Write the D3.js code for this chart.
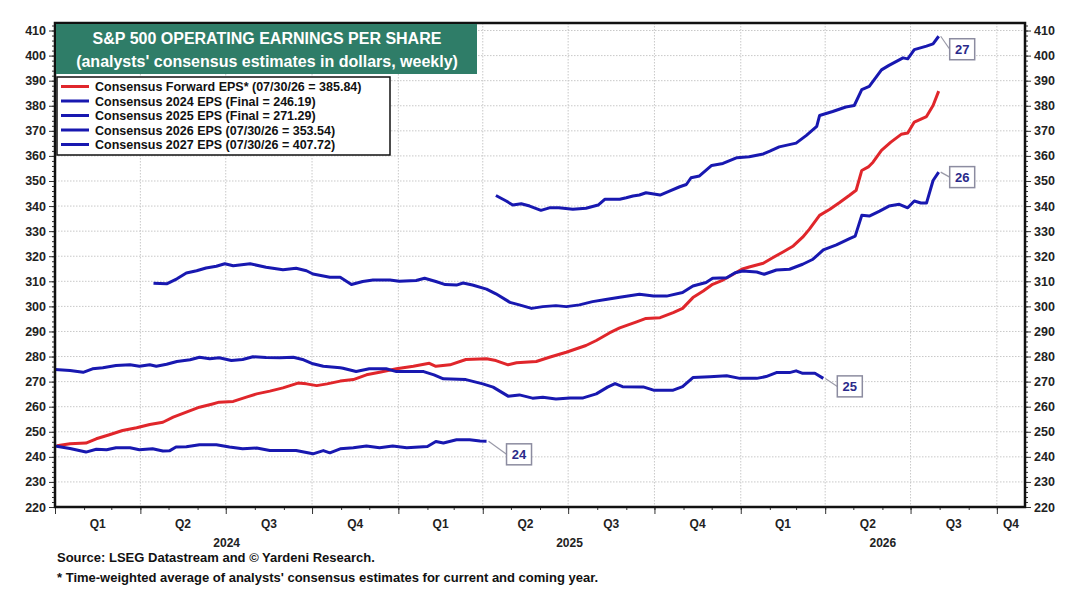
<!DOCTYPE html>
<html>
<head>
<meta charset="utf-8">
<script src="https://cdn.jsdelivr.net/npm/d3@7"></script>
<style>
body { margin: 0; background: #fff; }
svg text { font-family: "Liberation Sans", Arial, sans-serif; font-weight: bold; }
</style>
</head>
<body>
<div id="chart-area"></div>
<script>
// weekly consensus estimates
const fwdEps = [
    ["2024-01-03",244.4],["2024-01-17",245.2],["2024-02-03",245.5],["2024-02-14",247.2],["2024-02-28",248.8],
    ["2024-03-13",250.5],["2024-03-28",251.6],["2024-04-11",252.9],["2024-04-25",253.8],["2024-05-06",255.8],
    ["2024-05-20",257.8],["2024-06-03",259.8],["2024-06-17",261.1],["2024-06-24",261.8],["2024-07-09",262.1],
    ["2024-07-23",263.8],["2024-08-03",265.1],["2024-08-17",266.2],["2024-08-31",267.5],["2024-09-16",269.4],
    ["2024-09-25",269.1],["2024-10-06",268.4],["2024-10-17",269.1],["2024-10-31",270.2],["2024-11-14",270.8],
    ["2024-11-28",272.7],["2024-12-12",273.7],["2024-12-30",275.1],["2025-01-17",276.1],["2025-02-03",277.3],
    ["2025-02-10",276.1],["2025-02-25",276.7],["2025-03-14",278.8],["2025-04-05",279.1],["2025-04-15",278.4],
    ["2025-04-28",276.7],["2025-05-07",277.5],["2025-05-28",278.0],["2025-06-11",279.7],["2025-06-29",281.7],
    ["2025-07-20",284.4],["2025-07-31",286.4],["2025-08-14",289.4],["2025-08-25",291.4],["2025-09-12",293.8],
    ["2025-09-22",295.2],["2025-10-07",295.5],["2025-10-21",297.5],["2025-10-31",299.2],["2025-11-11",303.5],
    ["2025-11-22",306.1],["2025-12-02",308.8],["2025-12-13",310.5],["2025-12-24",312.8],["2026-01-02",314.8],
    ["2026-01-10",315.7],["2026-01-25",317.2],["2026-02-04",319.4],["2026-02-15",321.7],["2026-02-26",324.1],
    ["2026-03-08",327.6],["2026-03-15",330.7],["2026-03-26",336.3],["2026-04-06",338.7],["2026-04-16",341.3],
    ["2026-04-27",344.3],["2026-05-04",346.3],["2026-05-10",354.2],["2026-05-17",355.6],["2026-05-22",357.5],
    ["2026-05-31",362.2],["2026-06-10",365.5],["2026-06-21",368.6],["2026-06-28",369.1],["2026-07-05",373.5],
    ["2026-07-18",375.7],["2026-07-25",380.1],["2026-07-31",385.84]
];

const eps2024 = [
    ["2024-01-01",244.3],["2024-01-17",243.3],["2024-02-03",241.9],["2024-02-14",243.0],["2024-02-25",242.8],
    ["2024-03-06",243.6],["2024-03-21",243.6],["2024-03-31",242.8],["2024-04-14",243.2],["2024-04-25",242.3],
    ["2024-05-02",242.4],["2024-05-09",243.9],["2024-05-20",244.0],["2024-06-03",244.8],["2024-06-21",244.8],
    ["2024-07-05",243.9],["2024-07-19",243.2],["2024-08-03",243.5],["2024-08-17",242.5],["2024-08-31",242.5],
    ["2024-09-14",242.5],["2024-10-02",241.2],["2024-10-13",242.5],["2024-10-20",241.6],["2024-10-31",243.2],
    ["2024-11-14",243.6],["2024-11-28",244.3],["2024-12-12",243.6],["2024-12-26",244.3],["2025-01-10",243.6],
    ["2025-02-01",244.1],["2025-02-10",246.1],["2025-02-18",245.5],["2025-03-04",246.8],["2025-03-18",246.8],
    ["2025-03-29",246.3],["2025-04-05",246.19]
];

const eps2025 = [
    ["2024-01-01",274.8],["2024-01-17",274.4],["2024-01-31",273.7],["2024-02-10",275.1],["2024-02-21",275.5],
    ["2024-03-06",276.4],["2024-03-21",276.7],["2024-03-31",276.1],["2024-04-11",276.7],["2024-04-18",276.1],
    ["2024-04-29",276.9],["2024-05-10",278.0],["2024-05-24",278.7],["2024-06-03",279.7],["2024-06-14",279.1],
    ["2024-06-24",279.5],["2024-07-07",278.4],["2024-07-19",278.8],["2024-07-30",279.9],["2024-08-13",279.6],
    ["2024-08-28",279.5],["2024-09-11",279.7],["2024-09-22",278.7],["2024-10-02",277.1],["2024-10-13",276.1],
    ["2024-10-31",275.5],["2024-11-03",275.3],["2024-11-17",274.0],["2024-12-01",275.1],["2024-12-19",275.1],
    ["2024-12-30",274.0],["2025-01-28",274.0],["2025-02-08",272.7],["2025-02-18",271.1],["2025-03-14",270.8],
    ["2025-04-01",269.1],["2025-04-12",267.8],["2025-04-28",264.2],["2025-05-10",264.7],["2025-05-24",263.4],
    ["2025-06-04",263.8],["2025-06-18",263.1],["2025-07-03",263.5],["2025-07-17",263.5],["2025-07-31",265.1],
    ["2025-08-12",267.8],["2025-08-20",269.2],["2025-08-28",268.0],["2025-09-19",267.9],["2025-09-30",266.6],
    ["2025-10-21",266.6],["2025-10-31",268.0],["2025-11-11",271.6],["2025-11-29",271.9],["2025-12-17",272.3],
    ["2025-12-31",271.3],["2026-01-18",271.3],["2026-01-28",272.0],["2026-02-08",273.6],["2026-02-22",273.6],
    ["2026-03-01",274.3],["2026-03-08",273.3],["2026-03-21",273.3],["2026-03-30",271.29]
];

const eps2026 = [
    ["2024-04-15",309.2],["2024-04-29",309.0],["2024-05-10",311.0],["2024-05-20",313.3],["2024-05-31",314.2],
    ["2024-06-10",315.3],["2024-06-21",316.0],["2024-06-30",317.0],["2024-07-09",316.2],["2024-07-27",317.0],
    ["2024-08-13",315.6],["2024-08-31",314.6],["2024-09-14",315.2],["2024-09-25",314.2],["2024-10-02",312.9],
    ["2024-10-20",311.6],["2024-10-31",311.6],["2024-11-12",308.7],["2024-11-24",309.9],["2024-12-05",310.5],
    ["2024-12-23",310.5],["2025-01-02",310.0],["2025-01-20",310.3],["2025-01-29",311.2],["2025-02-10",309.9],
    ["2025-02-20",308.7],["2025-03-04",308.5],["2025-03-11",309.3],["2025-03-21",308.5],["2025-04-05",306.9],
    ["2025-04-15",305.0],["2025-04-30",301.6],["2025-05-10",300.6],["2025-05-23",299.2],["2025-06-04",299.9],
    ["2025-06-18",300.3],["2025-06-29",299.9],["2025-07-13",300.6],["2025-07-27",301.9],["2025-08-10",302.7],
    ["2025-08-25",303.6],["2025-09-15",304.8],["2025-09-30",304.1],["2025-10-14",304.1],["2025-10-31",305.5],
    ["2025-11-11",308.1],["2025-11-25",309.5],["2025-12-02",311.2],["2025-12-17",311.4],["2025-12-26",313.4],
    ["2026-01-03",314.1],["2026-01-18",313.7],["2026-01-26",312.8],["2026-02-08",314.5],["2026-02-22",314.8],
    ["2026-03-08",316.8],["2026-03-19",318.8],["2026-03-30",322.5],["2026-04-13",324.5],["2026-04-27",327.0],
    ["2026-05-03",328.0],["2026-05-10",336.3],["2026-05-18",336.0],["2026-05-29",338.0],["2026-06-08",340.0],
    ["2026-06-19",340.7],["2026-06-28",339.3],["2026-07-05",342.0],["2026-07-12",341.2],["2026-07-18",341.2],
    ["2026-07-25",350.2],["2026-07-31",353.54]
];

const eps2027 = [
    ["2025-04-15",344.2],["2025-04-26",342.0],["2025-05-03",340.4],["2025-05-12",340.9],["2025-05-21",340.0],
    ["2025-06-02",338.3],["2025-06-11",339.3],["2025-06-21",339.3],["2025-07-06",338.7],["2025-07-20",339.1],
    ["2025-08-02",340.4],["2025-08-09",342.7],["2025-08-25",342.7],["2025-09-01",343.3],["2025-09-08",344.0],
    ["2025-09-15",344.4],["2025-09-22",345.3],["2025-10-07",344.4],["2025-10-17",346.0],["2025-10-28",347.7],
    ["2025-11-04",348.6],["2025-11-09",351.3],["2025-11-18",352.0],["2025-12-01",356.2],["2025-12-13",357.0],
    ["2025-12-28",359.3],["2026-01-10",359.7],["2026-01-25",360.8],["2026-02-01",361.9],["2026-02-11",363.6],
    ["2026-03-01",365.1],["2026-03-12",368.2],["2026-03-23",371.8],["2026-03-26",376.1],["2026-04-09",377.7],
    ["2026-04-23",379.5],["2026-05-02",380.1],["2026-05-10",386.4],["2026-05-18",387.7],["2026-05-31",394.3],
    ["2026-06-08",396.1],["2026-06-23",399.1],["2026-06-28",398.7],["2026-07-05",402.4],["2026-07-18",403.8],
    ["2026-07-25",404.7],["2026-07-31",407.72]
];

const legendLabels = [
    "Consensus Forward EPS* (07/30/26 = 385.84)",
    "Consensus 2024 EPS (Final = 246.19)",
    "Consensus 2025 EPS (Final = 271.29)",
    "Consensus 2026 EPS (07/30/26 = 353.54)",
    "Consensus 2027 EPS (07/30/26 = 407.72)"
];
const endTags = ["24", "25", "26", "27"];
const quarterNames = ["Q1", "Q2", "Q3", "Q4"];
const yearNames = ["2024", "2025", "2026"];
const titleLines = ["S&P 500 OPERATING EARNINGS PER SHARE", "(analysts' consensus estimates in dollars, weekly)"];
const notes = [
    "Source: LSEG Datastream and \u00a9 Yardeni Research.",
    "* Time-weighted average of analysts' consensus estimates for current and coming year."
];

const RED = "#e0262b";
const BLUE = "#1818b0";

const width = 1080;
const height = 596;
const margin = {left: 55, right: 55, top: 23, bottom: 89};
const w = width - margin.left - margin.right;
const h = height - margin.top - margin.bottom;

const parse = d3.timeParse("%Y-%m-%d");
const toPts = arr => arr.map(d => ({date: parse(d[0]), value: d[1]}));

const series = [
    {data: toPts(eps2024), color: BLUE, tag: endTags[0], off: [20, 13]},
    {data: toPts(eps2025), color: BLUE, tag: endTags[1], off: [14, 8]},
    {data: toPts(eps2026), color: BLUE, tag: endTags[2], off: [11, 5]},
    {data: toPts(eps2027), color: BLUE, tag: endTags[3], off: [11, 13]}
];
const fwd = {data: toPts(fwdEps), color: RED};

const svg = d3.select("#chart-area")
    .append("svg")
    .attr("width", width)
    .attr("height", height);

svg.append("rect")
    .attr("width", "100%")
    .attr("height", "100%")
    .attr("fill", "white");

const g = svg.append("g")
    .attr("transform", "translate(" + margin.left + "," + margin.top + ")");

const x = d3.scaleTime()
    .domain([new Date(2024, 0, 1), new Date(2026, 9, 31)])
    .range([0, w]);

const y = d3.scaleLinear()
    .domain([220, 413])
    .range([h, 0]);

const quarters = d3.timeMonth.every(3).range(new Date(2024, 0, 1), new Date(2026, 10, 1));
const months = d3.timeMonth.range(new Date(2024, 0, 1), new Date(2026, 10, 1));

// grid
g.append("g")
    .selectAll("line")
    .data(d3.range(230, 411, 10))
    .enter()
    .append("line")
        .attr("x1", 0)
        .attr("x2", w)
        .attr("y1", d => y(d))
        .attr("y2", d => y(d))
        .attr("stroke", "#c8c8c8")
        .attr("stroke-width", 1)
        .attr("stroke-dasharray", "1.5,1.5");

g.append("g")
    .selectAll("line")
    .data(quarters.slice(1))
    .enter()
    .append("line")
        .attr("x1", d => x(d))
        .attr("x2", d => x(d))
        .attr("y1", 0)
        .attr("y2", h)
        .attr("stroke", "#c8c8c8")
        .attr("stroke-width", 1)
        .attr("stroke-dasharray", "1.5,1.5");

// axes
const yMajor = d3.range(220, 411, 10);
const yMinor = d3.range(220, 413, 2);

g.append("g")
    .attr("class", "axis")
    .call(d3.axisLeft(y).tickValues(yMinor).tickSize(3).tickFormat(""));
g.append("g")
    .attr("class", "axis")
    .call(d3.axisLeft(y).tickValues(yMajor).tickSize(6).tickPadding(3));
g.append("g")
    .attr("class", "axis")
    .attr("transform", "translate(" + w + ",0)")
    .call(d3.axisRight(y).tickValues(yMinor).tickSize(3).tickFormat(""));
g.append("g")
    .attr("class", "axis")
    .attr("transform", "translate(" + w + ",0)")
    .call(d3.axisRight(y).tickValues(yMajor).tickSize(6).tickPadding(3));

g.append("g")
    .attr("class", "axis")
    .attr("transform", "translate(0," + h + ")")
    .call(d3.axisBottom(x).tickValues(months).tickSize(3).tickFormat(""));
g.append("g")
    .attr("class", "axis")
    .attr("transform", "translate(0," + h + ")")
    .call(d3.axisBottom(x).tickValues(quarters).tickSize(7).tickFormat(""));

g.selectAll(".axis path").remove();
g.selectAll(".axis line")
    .attr("stroke", "#333")
    .attr("stroke-width", 1);
g.selectAll(".axis text")
    .attr("fill", "#222")
    .attr("font-size", "12.5px")
    .attr("font-weight", "bold");

// quarter and year labels
const xEnd = x.domain()[1];
g.append("g")
    .selectAll("text")
    .data(quarters)
    .enter()
    .append("text")
        .attr("x", d => (x(d) + x(d3.min([d3.timeMonth.offset(d, 3), xEnd]))) / 2)
        .attr("y", h + 21)
        .attr("text-anchor", "middle")
        .attr("font-size", "12px")
        .attr("fill", "#222")
        .text(d => quarterNames[Math.floor(d.getMonth() / 3)]);

g.append("g")
    .selectAll("text")
    .data(yearNames)
    .enter()
    .append("text")
        .attr("x", d => {
            const a = new Date(+d, 0, 1);
            const b = d3.min([new Date(+d + 1, 0, 1), xEnd]);
            return (x(a) + x(b)) / 2;
        })
        .attr("y", h + 40)
        .attr("text-anchor", "middle")
        .attr("font-size", "12px")
        .attr("fill", "#222")
        .text(d => d);

// lines
const line = d3.line()
    .x(d => x(d.date))
    .y(d => y(d.value));

g.append("path")
    .datum(fwd.data)
    .attr("d", line)
    .attr("fill", "none")
    .attr("stroke", fwd.color)
    .attr("stroke-width", 3)
    .attr("stroke-linejoin", "round");

series.forEach(s => {
    g.append("path")
        .datum(s.data)
        .attr("d", line)
        .attr("fill", "none")
        .attr("stroke", s.color)
        .attr("stroke-width", 3)
        .attr("stroke-linejoin", "round");

    const last = s.data[s.data.length - 1];
    const lx = x(last.date);
    const ly = y(last.value);
    const bx = lx + s.off[0];
    const by = ly + s.off[1];

    g.append("line")
        .attr("x1", lx + 2)
        .attr("y1", ly)
        .attr("x2", bx)
        .attr("y2", by)
        .attr("stroke", "#9a9aa8")
        .attr("stroke-width", 1.2);

    g.append("rect")
        .attr("x", bx)
        .attr("y", by - 10.5)
        .attr("width", 25)
        .attr("height", 21)
        .attr("fill", "white")
        .attr("stroke", "#8c8ca0")
        .attr("stroke-width", 1.5);

    g.append("text")
        .attr("x", bx + 12.5)
        .attr("y", by + 5)
        .attr("text-anchor", "middle")
        .attr("font-size", "13px")
        .attr("fill", "#2a2a8a")
        .text(s.tag);
});

// frame
g.append("rect")
    .attr("x", 0)
    .attr("y", 0)
    .attr("width", w)
    .attr("height", h)
    .attr("fill", "none")
    .attr("stroke", "#111")
    .attr("stroke-width", 2.5);

// title box
const title = g.append("g");
title.append("rect")
    .attr("x", 1)
    .attr("y", 1)
    .attr("width", 421)
    .attr("height", 50)
    .attr("fill", "#2f7d68");
title.selectAll("text")
    .data(titleLines)
    .enter()
    .append("text")
        .attr("x", 212)
        .attr("y", (d, i) => 21 + i * 23)
        .attr("text-anchor", "middle")
        .attr("font-size", "16px")
        .attr("fill", "white")
        .text(d => d);

// legend
const legend = g.append("g")
    .attr("transform", "translate(2,54)");
legend.append("rect")
    .attr("width", 333)
    .attr("height", 78)
    .attr("fill", "white")
    .attr("stroke", "#111")
    .attr("stroke-width", 1.5);

const legendColors = [RED, BLUE, BLUE, BLUE, BLUE];
const rows = legend.selectAll(".row")
    .data(legendLabels)
    .enter()
    .append("g")
        .attr("class", "row")
        .attr("transform", (d, i) => "translate(0," + (9.5 + i * 14.5) + ")");
rows.append("line")
    .attr("x1", 4)
    .attr("x2", 32)
    .attr("stroke", (d, i) => legendColors[i])
    .attr("stroke-width", 3);
rows.append("text")
    .attr("x", 38)
    .attr("y", 4.5)
    .attr("font-size", "12.5px")
    .attr("fill", "#111")
    .text(d => d);

// footnotes
svg.selectAll(".note")
    .data(notes)
    .enter()
    .append("text")
        .attr("class", "note")
        .attr("x", 57)
        .attr("y", (d, i) => 562 + i * 20)
        .attr("font-size", "13px")
        .attr("fill", "#111")
        .text(d => d);
</script>
</body>
</html>
